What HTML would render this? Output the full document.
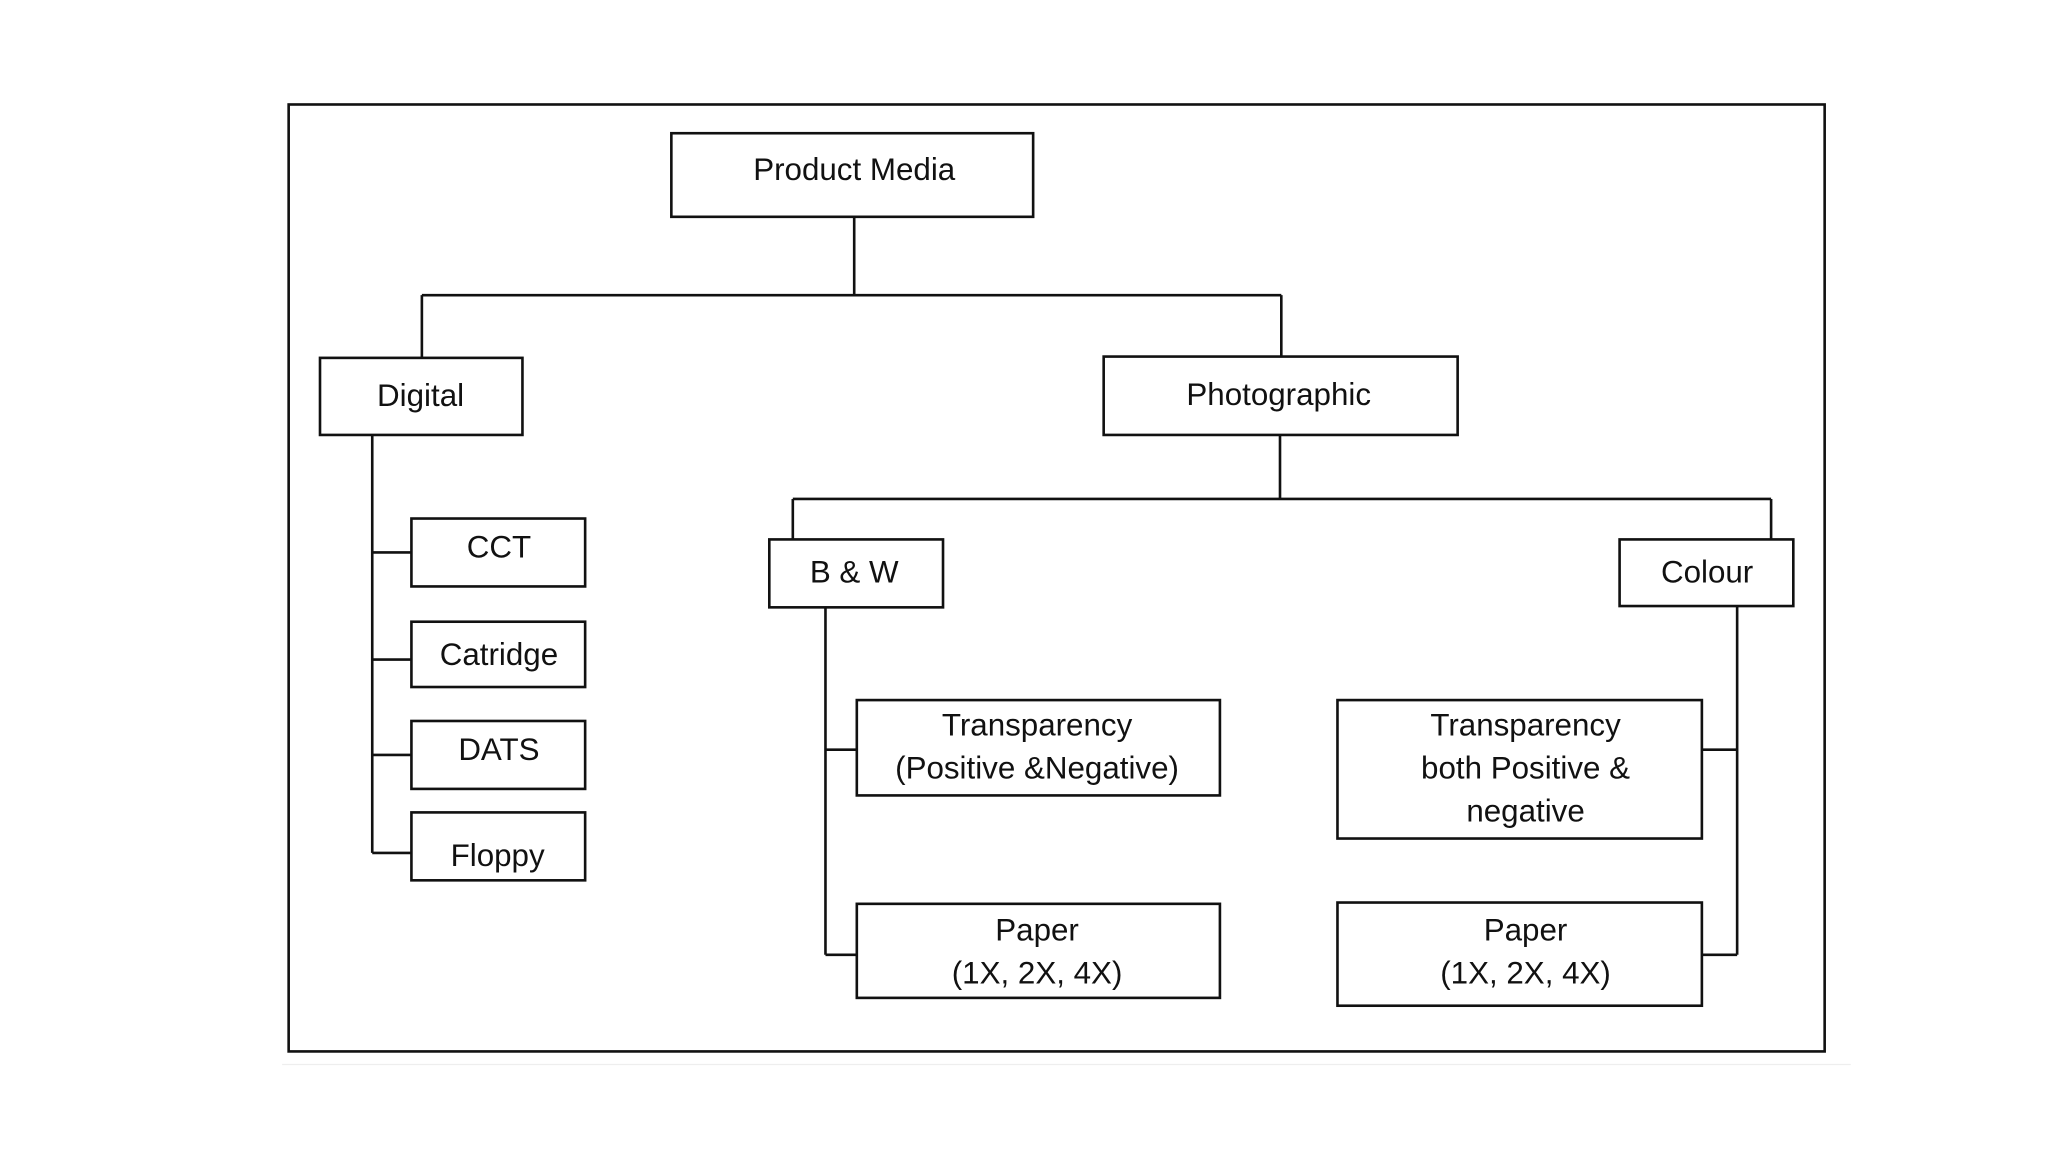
<!DOCTYPE html>
<html><head><meta charset="utf-8"><style>
html,body{margin:0;padding:0;background:#fff;}
svg{display:block;}
text{font-family:"Liberation Sans",Arial,sans-serif;font-size:24px;fill:#111;text-anchor:middle;}
</style></head><body>
<svg width="2048" height="1152" viewBox="0 0 1568 882" preserveAspectRatio="none" xmlns="http://www.w3.org/2000/svg">
<g fill="none" stroke="#111" stroke-width="2">
<rect x="221" y="80" width="1176" height="725"/>
<rect x="514" y="102" width="277" height="64"/>
<rect x="245" y="274" width="155" height="59"/>
<rect x="845" y="273" width="271" height="60"/>
<rect x="589" y="413" width="133" height="52"/>
<rect x="1240" y="413" width="133" height="51"/>
<rect x="315" y="397" width="133" height="52"/>
<rect x="315" y="476" width="133" height="50"/>
<rect x="315" y="552" width="133" height="52"/>
<rect x="315" y="622" width="133" height="52"/>
<rect x="656" y="536" width="278" height="73"/>
<rect x="656" y="692" width="278" height="72"/>
<rect x="1024" y="536" width="279" height="106"/>
<rect x="1024" y="691" width="279" height="79"/>
<path d="M654 166V226M323 226H981M323 226V274M981 226V273"/>
<path d="M980 333V382M607 382H1356M607 382V413M1356 382V413"/>
<path d="M285 333V653M285 423H315M285 505H315M285 578H315M285 653H315"/>
<path d="M632 465V731M632 574H656M632 731H656"/>
<path d="M1330 464V731M1303 574H1330M1303 731H1330"/>
</g>
<line x1="216" y1="815" x2="1417" y2="815" stroke="#eee" stroke-width="1"/>
<text x="654" y="138">Product Media</text>
<text x="322" y="311">Digital</text>
<text x="979" y="310">Photographic</text>
<text x="654" y="446">B &amp; W</text>
<text x="1307" y="446">Colour</text>
<text x="382" y="427">CCT</text>
<text x="382" y="509">Catridge</text>
<text x="382" y="582">DATS</text>
<text x="381" y="663">Floppy</text>
<text x="794" y="563">Transparency</text>
<text x="794" y="596">(Positive &amp;Negative)</text>
<text x="794" y="720">Paper</text>
<text x="794" y="753">(1X, 2X, 4X)</text>
<text x="1168" y="563">Transparency</text>
<text x="1168" y="596">both Positive &amp;</text>
<text x="1168" y="629">negative</text>
<text x="1168" y="720">Paper</text>
<text x="1168" y="753">(1X, 2X, 4X)</text>
</svg>
</body></html>
